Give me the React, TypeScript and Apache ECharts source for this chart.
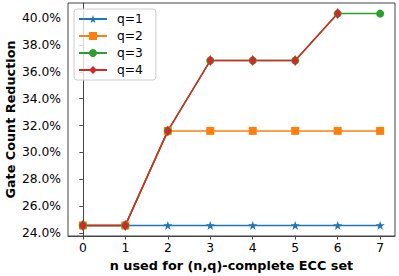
import React, { useEffect, useRef } from "react";
import * as echarts from "echarts";

const categories = ["0", "1", "2", "3", "4", "5", "6", "7"];
const q1 = [24.55, 24.55, 24.55, 24.55, 24.55, 24.55, 24.55, 24.55];
const q2 = [24.55, 24.55, 31.6, 31.6, 31.6, 31.6, 31.6, 31.6];
const q3 = [24.55, 24.55, 31.6, 36.85, 36.85, 36.85, 40.35, 40.35];
const q4 = [24.55, 24.55, 31.6, 36.85, 36.85, 36.85, 40.35];
const yTicks = [24, 26, 28, 30, 32, 34, 36, 38, 40];
const seriesNames = ["q=1", "q=2", "q=3", "q=4"];
const colors = ["#1f77b4", "#ff7f0e", "#2ca02c", "#d62728"];

const STAR =
  "path://M0,-10 L2.35,-3.24 L9.51,-3.09 L3.8,1.24 L5.88,8.09 L0,4 L-5.88,8.09 L-3.8,1.24 L-9.51,-3.09 L-2.35,-3.24 Z";
const THIN_DIAMOND = "path://M0,-10 L6,0 L0,10 L-6,0 Z";

export default function App() {
  const ref = useRef<HTMLDivElement>(null);
  useEffect(() => {
    if (!ref.current) return;
    const chart = echarts.init(ref.current, null, { renderer: "svg" });
    const font = "DejaVu Sans";
    const mk = (name: string, data: number[], color: string, symbol: string, size: any) => ({
      name,
      type: "line",
      data: data.map((v, i) => [i, v]),
      symbol,
      symbolSize: size,
      showAllSymbol: true,
      lineStyle: { color, width: 1.5 },
      itemStyle: { color, borderWidth: 0 },
      emphasis: { disabled: true },
    });
    chart.setOption({
      animation: false,
      color: colors,
      grid: {
        left: 68,
        top: 3,
        right: 4,
        bottom: 40,
        containLabel: false,
        outerBoundsMode: "none",
        show: true,
        borderColor: "#444",
        borderWidth: 1,
        backgroundColor: "transparent",
      },
      legend: {
        left: 74,
        top: 9,
        orient: "vertical",
        data: seriesNames,
        itemWidth: 28,
        itemHeight: 10,
        itemGap: 5,
        padding: [4, 13, 4, 4],
        borderColor: "#ccc",
        borderWidth: 1,
        borderRadius: 3,
        backgroundColor: "rgba(255,255,255,0.8)",
        textStyle: { fontFamily: font, fontSize: 12.3, color: "#000", padding: [0, 0, 0, 5] },
      },
      xAxis: {
        type: "value",
        min: -0.35,
        max: 7.35,
        interval: 1,
        name: "n used for (n,q)-complete ECC set",
        nameLocation: "middle",
        nameGap: 23,
        nameMoveOverlap: false,
        nameTextStyle: { fontFamily: font, fontSize: 12.8, fontWeight: "bold", color: "#000" },
        axisLine: { show: true, onZero: false, lineStyle: { color: "#444", width: 1 } },
        axisTick: {
          show: true,
          length: 3.5,
          lineStyle: { color: "#444" },
          customValues: categories.map((c) => Number(c)),
        },
        axisLabel: {
          fontFamily: font,
          fontSize: 12.3,
          color: "#000",
          margin: 6,
          customValues: categories.map((c) => Number(c)),
          formatter: (v: number) => String(Math.round(v)),
        },
        splitLine: { show: false },
      },
      yAxis: {
        type: "value",
        min: 23.76,
        max: 41.14,
        name: "Gate Count Reduction",
        nameLocation: "middle",
        nameGap: 51,
        nameMoveOverlap: false,
        nameTextStyle: { fontFamily: font, fontSize: 12.8, fontWeight: "bold", color: "#000" },
        axisLine: { show: true, lineStyle: { color: "#444", width: 1 } },
        axisTick: { show: true, length: 3.5, lineStyle: { color: "#444" }, customValues: yTicks },
        axisLabel: {
          fontFamily: font,
          fontSize: 12.3,
          color: "#000",
          margin: 7,
          customValues: yTicks,
          formatter: (v: number) => v.toFixed(1) + "%",
        },
        splitLine: { show: false },
      },
      series: [
        mk(seriesNames[0], q1, colors[0], STAR, 9),
        mk(seriesNames[1], q2, colors[1], "rect", 8),
        mk(seriesNames[2], q3, colors[2], "circle", 8),
        mk(seriesNames[3], q4, colors[3], THIN_DIAMOND, [7, 11]),
      ],
    });
    return () => chart.dispose();
  }, []);
  return (
    <div
      ref={ref}
      style={{ position: "fixed", left: 0, top: 0, width: 399, height: 276, background: "#fff" }}
    />
  );
}
